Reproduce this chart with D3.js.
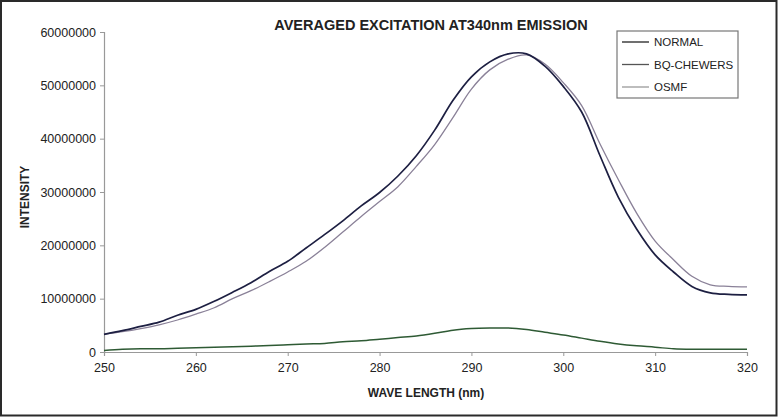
<!DOCTYPE html>
<html>
<head>
<meta charset="utf-8">
<script src="https://cdn.jsdelivr.net/npm/d3@7/dist/d3.min.js"></script>
<style>
  html, body { margin: 0; padding: 0; background: #fff; }
  svg { display: block; font-family: "Liberation Sans", Arial, sans-serif; }
</style>
</head>
<body>
<svg id="chart" width="778" height="417"></svg>
<script>
// ---- data ----
const title = "AVERAGED EXCITATION AT340nm EMISSION";
const xLabel = "WAVE LENGTH (nm)";
const yLabel = "INTENSITY";
const seriesNames = ["NORMAL", "BQ-CHEWERS", "OSMF"];
const wavelengths = [250,252,254,256,258,260,262,264,266,268,270,272,274,276,278,280,282,284,286,288,290,292,294,296,298,300,302,304,306,308,310,312,314,316,318,320];
const normal = [3.3,4.0,4.8,5.6,6.9,8.0,9.5,11.2,13.0,15.1,17.0,19.5,22.0,24.6,27.4,29.9,33.0,36.8,41.6,47.2,51.6,54.4,55.9,55.9,53.6,49.8,45.0,36.8,29.0,23.0,18.2,15.0,12.3,11.1,10.8,10.7].map(v => v * 1e6);
const bqChewers = [3.3,3.8,4.4,5.1,6.0,7.1,8.3,10.0,11.5,13.2,15.0,17.0,19.6,22.5,25.4,28.2,31.0,34.8,38.9,44.0,49.3,52.9,54.9,55.7,54.0,50.5,46.2,39.0,32.3,26.0,20.8,17.3,14.2,12.6,12.3,12.2].map(v => v * 1e6);
const osmf = [0.3,0.5,0.6,0.6,0.7,0.8,0.9,1.0,1.1,1.2,1.35,1.5,1.6,1.9,2.1,2.4,2.7,3.0,3.5,4.1,4.4,4.5,4.5,4.2,3.7,3.2,2.6,2.0,1.5,1.15,0.9,0.6,0.5,0.5,0.5,0.5].map(v => v * 1e6);
const xTicks = [250,260,270,280,290,300,310,320];
const yTicks = [0,10000000,20000000,30000000,40000000,50000000,60000000];

// ---- styles ----
const seriesColors = ["#1d1f42", "#8a8198", "#2e5a34"];
const seriesWidths = [1.7, 1.3, 1.5];
const legendColors = ["#222", "#555", "#999"];

const svg = d3.select("#chart");
const W = 778, H = 417;
const plot = { left: 104, right: 747, top: 32, bottom: 352 };

svg.append("rect").attr("x", 1).attr("y", 1).attr("width", W - 2.5).attr("height", H - 2.5)
  .attr("fill", "#fff").attr("stroke", "#2a2a2a").attr("stroke-width", 2);

const x = d3.scaleLinear().domain([250, 320]).range([plot.left, plot.right]);
const y = d3.scaleLinear().domain([0, 60000000]).range([plot.bottom, plot.top]);

// axes
const xAxis = svg.append("g").attr("transform", `translate(0,${plot.bottom})`)
  .call(d3.axisBottom(x).tickValues(xTicks).tickSize(4).tickPadding(7).tickFormat(d3.format("d")));
const yAxis = svg.append("g").attr("transform", `translate(${plot.left},0)`)
  .call(d3.axisLeft(y).tickValues(yTicks).tickSize(4).tickPadding(4).tickFormat(d3.format("d")));
[xAxis, yAxis].forEach(g => {
  g.select(".domain").attr("stroke", "#999").attr("stroke-width", 1.2);
  g.selectAll(".tick line").attr("stroke", "#999");
  g.selectAll(".tick text").attr("fill", "#222").style("font-size", "12.5px")
    .style("font-family", "'Liberation Sans', Arial, sans-serif");
});

// lines
const allSeries = [normal, bqChewers, osmf];
const line = d3.line().x(d => x(d[0])).y(d => y(d[1])).curve(d3.curveCatmullRom.alpha(0.5));
[2, 1, 0].forEach(i => {
  svg.append("path")
    .datum(wavelengths.map((w, j) => [w, allSeries[i][j]]))
    .attr("fill", "none")
    .attr("stroke", seriesColors[i])
    .attr("stroke-width", seriesWidths[i])
    .attr("stroke-linejoin", "round")
    .attr("d", line);
});

// title & labels
svg.append("text").attr("x", 431).attr("y", 30).attr("text-anchor", "middle")
  .style("font-size", "14.5px").style("font-weight", "bold").attr("fill", "#222").text(title);
svg.append("text").attr("x", 426).attr("y", 397).attr("text-anchor", "middle")
  .style("font-size", "12px").style("font-weight", "bold").attr("fill", "#222").text(xLabel);
svg.append("text").attr("transform", "translate(29,197) rotate(-90)").attr("text-anchor", "middle")
  .style("font-size", "12px").style("font-weight", "bold").attr("fill", "#222").text(yLabel);

// legend
const lg = svg.append("g");
lg.append("rect").attr("x", 617).attr("y", 31).attr("width", 121).attr("height", 67)
  .attr("fill", "#fff").attr("stroke", "#777").attr("stroke-width", 1.2);
seriesNames.forEach((name, i) => {
  const ly = 42 + i * 22.5;
  lg.append("line").attr("x1", 622).attr("x2", 649).attr("y1", ly).attr("y2", ly)
    .attr("stroke", legendColors[i]).attr("stroke-width", 1.3);
  lg.append("text").attr("x", 654).attr("y", ly + 4).style("font-size", "11.5px")
    .attr("fill", "#222").text(name);
});
</script>
</body>
</html>
